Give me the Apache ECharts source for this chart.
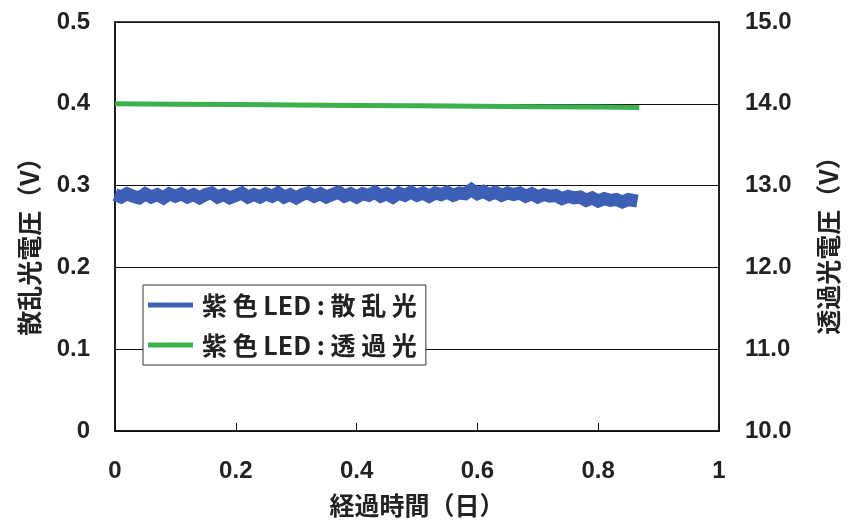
<!DOCTYPE html>
<html><head><meta charset="utf-8">
<script src="https://cdn.jsdelivr.net/npm/echarts@6/dist/echarts.min.js"></script>
<style>html,body{margin:0;padding:0;background:#fff}#c{width:849px;height:525px}</style>
</head><body><div id="c"></div>
<script>
const xTicks = [0, 0.2, 0.4, 0.6, 0.8, 1];
const leftTicks = [0, 0.1, 0.2, 0.3, 0.4, 0.5];
const rightTicks = [10.0, 11.0, 12.0, 13.0, 14.0, 15.0];
const scatterX = [0.00,0.01,0.02,0.03,0.04,0.05,0.06,0.07,0.08,0.09,0.10,0.11,0.12,0.13,0.14,0.15,0.16,0.17,0.18,0.19,0.20,0.21,0.22,0.23,0.24,0.25,0.26,0.27,0.28,0.29,0.30,0.31,0.32,0.33,0.34,0.35,0.36,0.37,0.38,0.39,0.40,0.41,0.42,0.43,0.44,0.45,0.46,0.47,0.48,0.49,0.50,0.51,0.52,0.53,0.54,0.55,0.56,0.57,0.58,0.59,0.60,0.61,0.62,0.63,0.64,0.65,0.66,0.67,0.68,0.69,0.70,0.71,0.72,0.73,0.74,0.75,0.76,0.77,0.78,0.79,0.80,0.81,0.82,0.83,0.84,0.85,0.865];
const scatterV = [0.289,0.286,0.290,0.287,0.285,0.290,0.286,0.289,0.285,0.290,
  0.287,0.290,0.286,0.289,0.285,0.289,0.291,0.286,0.289,0.285,
  0.288,0.291,0.286,0.289,0.286,0.290,0.287,0.291,0.286,0.289,
  0.285,0.289,0.291,0.287,0.290,0.286,0.289,0.292,0.287,0.290,
  0.286,0.290,0.288,0.292,0.287,0.290,0.286,0.291,0.288,0.292,
  0.288,0.291,0.287,0.291,0.289,0.292,0.288,0.291,0.290,0.295,
  0.290,0.293,0.289,0.292,0.288,0.291,0.289,0.291,0.287,0.290,
  0.286,0.289,0.287,0.288,0.284,0.287,0.285,0.286,0.282,0.285,
  0.281,0.284,0.282,0.283,0.280,0.283,0.281];
const transX = [0.00,0.10,0.20,0.30,0.40,0.50,0.60,0.70,0.80,0.868];
const transV = [14.00,13.995,13.99,13.985,13.98,13.975,13.97,13.965,13.96,13.955];
const names = ['紫色LED：散乱光','紫色LED：透過光'];
const legendLabels = ['紫 色 LED : 散 乱 光','紫 色 LED : 透 過 光'];

const numFont = {fontFamily:'Liberation Sans', fontSize:24, fontWeight:'bold', color:'#222'};
const cjkFont = {fontFamily:'Noto Sans CJK JP', fontSize:25, fontWeight:'bold', color:'#222'};
const chart = echarts.init(document.getElementById('c'));
chart.setOption({
  animation:false,
  grid:{left:115, right:127, top:22, bottom:94, show:true, borderColor:'#111', borderWidth:1.5},
  legend:{
    orient:'vertical', left:143, top:285, data:names, icon:'rect', itemWidth:45, itemHeight:5,
    itemGap:10, padding:[5,9,5,5], borderColor:'#333', borderWidth:1, backgroundColor:'#fff',
    formatter:n=>legendLabels[names.indexOf(n)],
    textStyle:Object.assign({}, cjkFont, {fontSize:25, lineHeight:30, padding:[0,0,0,4]})
  },
  xAxis:{type:'value', min:0, max:1, interval:0.2,
    name:'経過時間（日）', nameLocation:'middle', nameGap:62, nameTextStyle:cjkFont,
    axisLine:{lineStyle:{color:'#111', width:1.5}},
    axisTick:{inside:true, length:8, lineStyle:{color:'#111'}},
    axisLabel:Object.assign({margin:28}, numFont),
    splitLine:{show:false}},
  yAxis:[
    {type:'value', min:0, max:0.5, interval:0.1, position:'left',
     name:'散乱光電圧（V）', nameLocation:'middle', nameGap:73, nameRotate:90,
     nameTextStyle:Object.assign({padding:[0,28,0,0]}, cjkFont),
     axisLine:{show:true, lineStyle:{color:'#111', width:1.5}}, axisTick:{show:false},
     axisLabel:Object.assign({margin:25, formatter:v=>String(+v.toFixed(1))}, numFont),
     splitLine:{show:true, lineStyle:{color:'#111', width:1}}},
    {type:'value', min:10, max:15, interval:1, position:'right',
     name:'透過光電圧（V）', nameLocation:'middle', nameGap:97, nameRotate:90,
     nameTextStyle:Object.assign({padding:[0,26,0,0]}, cjkFont),
     axisLine:{show:true, lineStyle:{color:'#111', width:1.5}}, axisTick:{show:false},
     axisLabel:Object.assign({margin:26, formatter:v=>v.toFixed(1)}, numFont),
     splitLine:{show:false}}
  ],
  series:[
    {name:names[0], type:'line', yAxisIndex:0, data:scatterX.map((x,i)=>[x,scatterV[i]]),
     showSymbol:false, lineStyle:{color:'#3d5fb5', width:13, join:'miter'}, itemStyle:{color:'#3d5fb5'}},
    {name:names[1], type:'line', yAxisIndex:1, data:transX.map((x,i)=>[x,transV[i]]),
     showSymbol:false, lineStyle:{color:'#3bb04c', width:5}, itemStyle:{color:'#3bb04c'}}
  ]
});
</script></body></html>
